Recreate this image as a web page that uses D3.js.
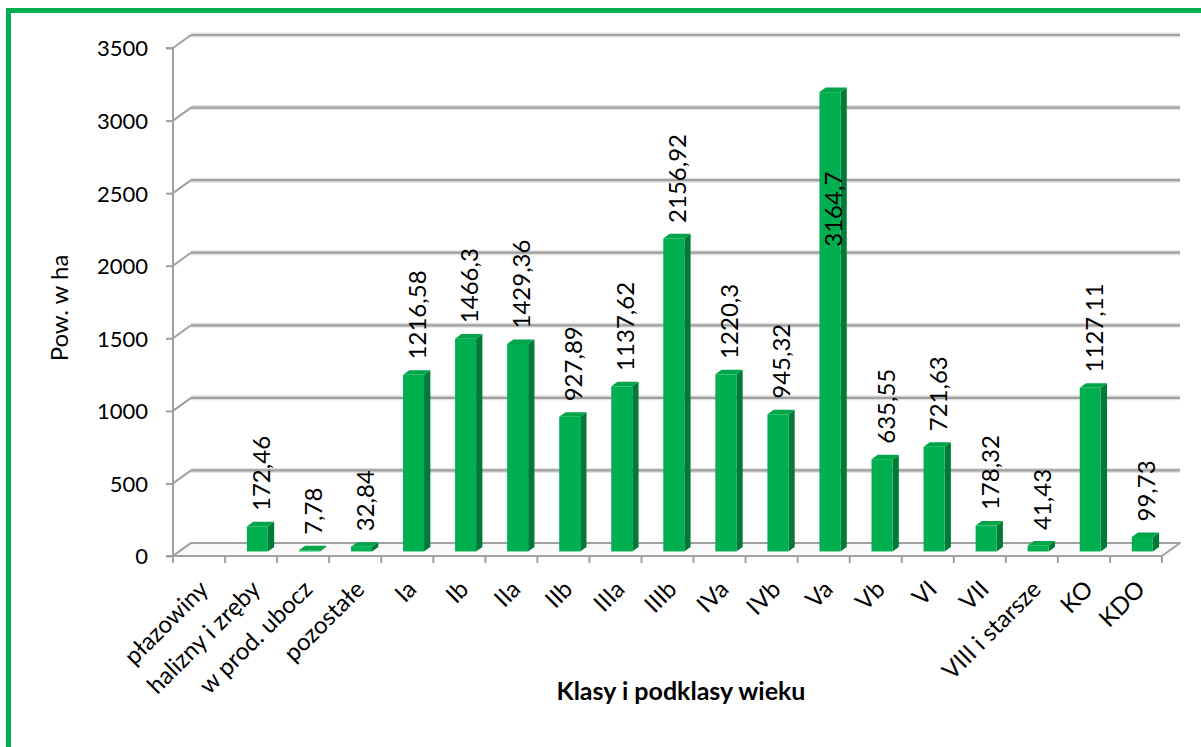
<!DOCTYPE html>
<html>
<head>
<meta charset="utf-8">
<script src="https://cdn.jsdelivr.net/npm/d3@7"></script>
<style>
  body { margin: 0; background: #fff; }
  svg { display: block; }
  text { font-family: Lato, "Open Sans", sans-serif; fill: #000; }
</style>
</head>
<body>
<svg id="drawing_region"></svg>
<script>
// data
const categories = ['płazowiny', 'halizny i zręby', 'w prod. ubocz', 'pozostałe', 'Ia', 'Ib', 'IIa', 'IIb',
  'IIIa', 'IIIb', 'IVa', 'IVb', 'Va', 'Vb', 'VI', 'VII', 'VIII i starsze', 'KO', 'KDO'];
const values = [null, 172.46, 7.78, 32.84, 1216.58, 1466.3, 1429.36, 927.89, 1137.62, 2156.92,
  1220.3, 945.32, 3164.7, 635.55, 721.63, 178.32, 41.43, 1127.11, 99.73];
const yTicks = [0, 500, 1000, 1500, 2000, 2500, 3000, 3500];
const yTitle = 'Pow. w ha';
const xTitle = 'Klasy i podklasy wieku';

const W = 1201, H = 747;
const left = 173, right = 1162, floorY = 556, topY = 48;
const depth = {dx: 18, dy: -13};   // 3d depth of the plot box
const green = '#00b050', greenSide = '#007a37', greenTop = '#00a548';

const svg = d3.select('#drawing_region').attr('width', W).attr('height', H);

// frame
svg.append('rect')
  .attr('x', 8.5).attr('y', 10.5).attr('width', 1400).attr('height', 900)
  .attr('fill', 'none').attr('stroke', green).attr('stroke-width', 5);

const xscale = d3.scaleBand().domain(categories).range([left, right]);
const yscale = d3.scaleLinear().domain([0, 3500]).range([floorY, topY]);

const grid = svg.append('g');
// back wall gridlines + side wall diagonals
yTicks.forEach(t => {
  const yf = yscale(t), yb = yf + depth.dy;
  if (t > 0) {
    grid.append('line')
      .attr('x1', left + depth.dx).attr('x2', right + depth.dx)
      .attr('y1', yb).attr('y2', yb)
      .attr('stroke', '#e0e0e0').attr('stroke-width', 5);
    grid.append('line')
      .attr('x1', left + depth.dx).attr('x2', right + depth.dx)
      .attr('y1', yb).attr('y2', yb)
      .attr('stroke', '#a0a0a0').attr('stroke-width', 2.2);
  }
  grid.append('line')
    .attr('x1', left).attr('y1', yf)
    .attr('x2', left + depth.dx).attr('y2', yb)
    .attr('stroke', '#a0a0a0').attr('stroke-width', 2);
});

// floor
const f0 = yscale(0);
grid.append('path')
  .attr('d', `M${left},${f0} L${right},${f0} L${right + depth.dx},${f0 + depth.dy} L${left + depth.dx},${f0 + depth.dy} Z`)
  .attr('fill', '#fafafa').attr('stroke', '#a0a0a0').attr('stroke-width', 2).attr('stroke-linejoin', 'round');

// y axis
const yaxis = d3.axisLeft(yscale).tickValues(yTicks).tickFormat(d3.format('d')).tickSize(7);
const yaxis_group = svg.append('g').attr('transform', `translate(${left}, 0)`).call(yaxis);
yaxis_group.select('.domain').attr('stroke', '#a0a0a0').attr('stroke-width', 2)
  .attr('d', `M-7,${topY}H0V${floorY}H-7`);
yaxis_group.selectAll('.tick line').attr('stroke', '#a0a0a0').attr('stroke-width', 2);
yaxis_group.selectAll('.tick text')
  .style('font-family', 'Lato, sans-serif').attr('font-size', 22).attr('fill', '#000')
  .attr('x', -25).attr('dy', '0.36em');

// category ticks at band edges
const edges = categories.map(c => xscale(c)).concat([right]);
svg.append('g').selectAll('line').data(edges).join('line')
  .attr('x1', d => d).attr('x2', d => d)
  .attr('y1', floorY).attr('y2', floorY + 7)
  .attr('stroke', '#a0a0a0').attr('stroke-width', 2);

// bars (3d columns)
const bw = 21;
const bOff = {dx: depth.dx * 0.35, dy: depth.dy * 0.35};
const bDep = {dx: depth.dx * 0.35, dy: depth.dy * 0.35};
const data = categories.map((c, i) => ({c: c, v: values[i]})).filter(d => d.v !== null);

const bars = svg.append('g').selectAll('g').data(data).join('g');
bars.each(function(d) {
  const g = d3.select(this);
  const cx = xscale(d.c) + xscale.bandwidth() / 2 + bOff.dx;
  const x0 = cx - bw / 2, x1 = cx + bw / 2;
  const yb = yscale(0) + bOff.dy, yt = yscale(d.v) + bOff.dy;
  // side
  g.append('path')
    .attr('d', `M${x1},${yb} L${x1 + bDep.dx},${yb + bDep.dy} L${x1 + bDep.dx},${yt + bDep.dy} L${x1},${yt} Z`)
    .attr('fill', greenSide);
  // top
  g.append('path')
    .attr('d', `M${x0},${yt} L${x1},${yt} L${x1 + bDep.dx},${yt + bDep.dy} L${x0 + bDep.dx},${yt + bDep.dy} Z`)
    .attr('fill', greenTop);
  // front
  g.append('rect')
    .attr('x', x0).attr('y', yt).attr('width', bw).attr('height', yb - yt)
    .attr('fill', green);
});

// value labels
const fmt = v => String(v).replace('.', ',');
const inside = v => yscale(v) - 100 < topY - 15;   // label does not fit above the column
svg.append('g').selectAll('text').data(data).join('text')
  .attr('transform', d => {
    const cx = xscale(d.c) + xscale.bandwidth() / 2 + bOff.dx + 3;
    const y = inside(d.v) ? yscale(d.v) + 75 : yscale(d.v) - 20;
    return `translate(${cx},${y}) rotate(-90)`;
  })
  .attr('text-anchor', d => inside(d.v) ? 'end' : 'start')
  .attr('dominant-baseline', 'central')
  .attr('font-size', 24)
  .text(d => fmt(d.v));

// category labels
svg.append('g').selectAll('text').data(categories).join('text')
  .attr('transform', c => `translate(${xscale(c) + xscale.bandwidth() / 2 + 4},${floorY + 28}) rotate(-45)`)
  .attr('text-anchor', 'end')
  .attr('dominant-baseline', 'central')
  .attr('font-size', 24)
  .text(c => c);

// axis titles
svg.append('text')
  .attr('transform', `translate(58,308) rotate(-90)`)
  .attr('text-anchor', 'middle').attr('dominant-baseline', 'central')
  .attr('font-size', 24)
  .text(yTitle);

svg.append('text')
  .attr('x', 681).attr('y', 690)
  .attr('text-anchor', 'middle').attr('dominant-baseline', 'central')
  .attr('font-size', 25).attr('font-weight', 'bold')
  .text(xTitle);
</script>
</body>
</html>
